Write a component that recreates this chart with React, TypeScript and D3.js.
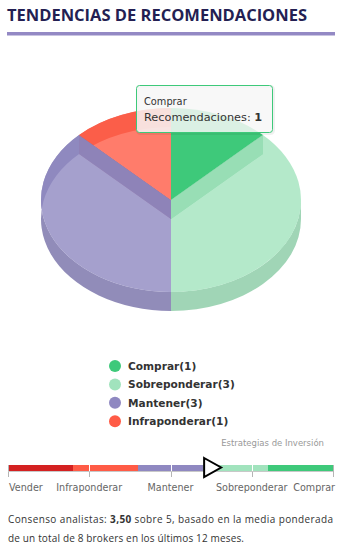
import React from 'react';
import * as d3 from 'd3';

// ---- data ----
const categories = ['Comprar', 'Sobreponderar', 'Mantener', 'Infraponderar'];
const counts = [1, 3, 3, 1];
const sliceColors = ['#3ec97a', '#a1e3bd', '#8f88c1', '#ff5b46'];
const hoveredIndex = 0;

const gaugeLabels = ['Vender', 'Infraponderar', 'Mantener', 'Sobreponderar', 'Comprar'];
const gaugeTicks = [1, 2, 3, 4, 5];
const gaugeBandEdges = [1, 1.8, 2.6, 3.4, 4.2, 5];
const gaugeBandColors = ['#d42121', '#ff5b46', '#8f88c1', '#a1e3bd', '#3ec97a'];
const consensusValue = 3.5;
const consensusMax = 5;
const brokers = 8;
const months = 12;

// ---- layout ----
const W = 362, H = 548;
const CX = 171, CY = 200, RX = 130, RY = 92, DEPTH = 19;
const INACTIVE = 0.8;

function pt(a: number, h: number): [number, number] {
  return [CX + RX * Math.sin(a), CY - RY * Math.cos(a) + h];
}
function darker(c: string) {
  const r = d3.rgb(c);
  return d3.rgb(Math.max(0, r.r - 25), Math.max(0, r.g - 25), Math.max(0, r.b - 25)).formatHex();
}
function topPath(s: number, e: number) {
  const [x0, y0] = pt(s, 0);
  const [x1, y1] = pt(e, 0);
  const large = e - s > Math.PI ? 1 : 0;
  return `M${CX},${CY}L${x0},${y0}A${RX},${RY} 0 ${large} 1 ${x1},${y1}Z`;
}
function wallPath(s: number, e: number) {
  const [x0, y0] = pt(s, 0);
  const [x1, y1] = pt(e, 0);
  const [x2, y2] = pt(e, DEPTH);
  const [x3, y3] = pt(s, DEPTH);
  const large = e - s > Math.PI ? 1 : 0;
  return `M${x0},${y0}A${RX},${RY} 0 ${large} 1 ${x1},${y1}L${x2},${y2}A${RX},${RY} 0 ${large} 0 ${x3},${y3}Z`;
}
function facePath(a: number) {
  const [x0, y0] = pt(a, 0);
  const [x1, y1] = pt(a, DEPTH);
  return `M${CX},${CY}L${x0},${y0}L${x1},${y1}L${CX},${CY + DEPTH}Z`;
}

export default function App() {
  const arcs = d3.pie<number>().sort(null).value((d) => d)(counts);
  const slices = arcs.map((a, i) => ({
    i,
    s: a.startAngle,
    e: a.endAngle,
    color: sliceColors[i],
    side: darker(sliceColors[i]),
    op: i === hoveredIndex ? 1 : INACTIVE,
  }));
  const order = [...slices].sort(
    (a, b) => Math.cos((b.s + b.e) / 2) - Math.cos((a.s + a.e) / 2)
  );

  const walls: React.ReactNode[] = [];
  order.forEach((sl) => {
    const ws = Math.max(sl.s, Math.PI / 2);
    const we = Math.min(sl.e, Math.PI * 2);
    walls.push(
      <path key={`f1-${sl.i}`} d={facePath(sl.s)} fill={sl.side} fillOpacity={sl.op} />
    );
    walls.push(
      <path key={`f2-${sl.i}`} d={facePath(sl.e)} fill={sl.side} fillOpacity={sl.op} />
    );
    if (we > ws) {
      walls.push(
        <path key={`w-${sl.i}`} d={wallPath(ws, we)} fill={sl.side} fillOpacity={sl.op} />
      );
    }
  });

  const gx = d3.scaleLinear().domain([1, 5]).range([8, 333]);
  const barTop = 465, barH = 6;
  const mx = gx(consensusValue);

  const font = 'DejaVu Sans, Verdana, sans-serif';

  return (
    <svg
      width={W}
      height={H}
      style={{ position: 'absolute', left: 0, top: 0, display: 'block' }}
    >
      {/* title */}
      <text
        x={7}
        y={21}
        fontFamily="Open Sans, Noto Sans, sans-serif"
        fontWeight={700}
        fontSize={16}
        fill="#241f53"
        textLength={300}
        lengthAdjust="spacingAndGlyphs"
      >
        TENDENCIAS DE RECOMENDACIONES
      </text>
      <rect x={7} y={32} width={328} height={3.5} fill="#9389c4" />

      {/* 3D pie */}
      <g>
        {walls}
        {slices.map((sl) => (
          <path
            key={`t-${sl.i}`}
            d={topPath(sl.s, sl.e)}
            fill={sl.color}
            fillOpacity={sl.op}
          />
        ))}
      </g>

      {/* tooltip */}
      <g>
        <rect x={137.5} y={86.5} width={136} height={47} rx={3} fill="none" stroke="rgba(0,0,0,0.06)" strokeWidth={3} />
        <rect x={136.5} y={85.5} width={136} height={47} rx={3} fill="rgba(247,247,247,0.85)" stroke={sliceColors[hoveredIndex]} strokeWidth={1} />
        <text x={144} y={105} fontFamily={font} fontSize={9.8} fill="#333333">
          {categories[hoveredIndex]}
        </text>
        <text x={144} y={121} fontFamily={font} fontSize={11.3} fill="#333333">
          Recomendaciones: <tspan fontWeight={700}>{counts[hoveredIndex]}</tspan>
        </text>
      </g>

      {/* legend */}
      <g>
        {categories.map((c, i) => {
          const y = 366 + i * 18.4;
          return (
            <g key={c}>
              <circle cx={115} cy={y} r={6} fill={sliceColors[i]} />
              <text
                x={128}
                y={y + 3.8}
                fontFamily={font}
                fontSize={10.6}
                fontWeight={700}
                fill="#333333"
              >
                {`${c}(${counts[i]})`}
              </text>
            </g>
          );
        })}
      </g>

      {/* gauge */}
      <text x={324} y={446} textAnchor="end" fontFamily={font} fontSize={8.5} fill="#999999">
        Estrategias de Inversión
      </text>
      <g>
        {gaugeBandColors.map((c, i) => (
          <rect
            key={`b-${i}`}
            x={gx(gaugeBandEdges[i])}
            y={barTop}
            width={gx(gaugeBandEdges[i + 1]) - gx(gaugeBandEdges[i])}
            height={barH}
            fill={c}
          />
        ))}
        {gaugeTicks.map((t, i) => {
          const x = Math.round(gx(t)) + 0.5;
          const inner = i > 0 && i < gaugeTicks.length - 1;
          return (
            <g key={`t-${t}`}>
              <line
                x1={x}
                x2={x}
                y1={barTop}
                y2={barTop + barH}
                stroke={inner ? '#ffffff' : '#b5b5b5'}
                strokeWidth={1}
              />
              <line x1={x} x2={x} y1={barTop + barH} y2={barTop + barH + 6} stroke="#b5b5b5" strokeWidth={1} />
            </g>
          );
        })}
        <line x1={gx(1)} x2={gx(5)} y1={barTop + barH + 0.5} y2={barTop + barH + 0.5} stroke="#c8c8c8" strokeWidth={1} />
        {gaugeLabels.map((l, i) => {
          const x = gx(gaugeTicks[i]);
          const first = i === 0;
          const last = i === gaugeLabels.length - 1;
          return (
            <text
              key={`l-${l}`}
              x={first ? x + 1 : last ? x + 2 : x}
              y={491}
              textAnchor={first ? 'start' : last ? 'end' : 'middle'}
              fontFamily={font}
              fontSize={9.6}
              fill="#666666"
            >
              {l}
            </text>
          );
        })}
        <path
          d={`M${mx - 7},${barTop - 7}L${mx + 10},${barTop + 2.5}L${mx - 7},${barTop + 12}Z`}
          fill="#ffffff"
          stroke="#000000"
          strokeWidth={2}
          strokeLinejoin="miter"
        />
      </g>

      {/* consensus */}
      <text
        x={8}
        y={523}
        fontFamily="Open Sans, Noto Sans, sans-serif"
        fontSize={10}
        fill="#333333"
        textLength={325}
        lengthAdjust="spacing"
      >
        Consenso analistas: <tspan fontWeight={700}>{d3.format('.2f')(consensusValue).replace('.', ',')}</tspan>
        {` sobre ${consensusMax}, basado en la media ponderada`}
      </text>
      <text
        x={8}
        y={542}
        fontFamily="Open Sans, Noto Sans, sans-serif"
        fontSize={10}
        fill="#333333"
        textLength={236}
        lengthAdjust="spacing"
      >
        {`de un total de ${brokers} brokers en los últimos ${months} meses.`}
      </text>
    </svg>
  );
}
